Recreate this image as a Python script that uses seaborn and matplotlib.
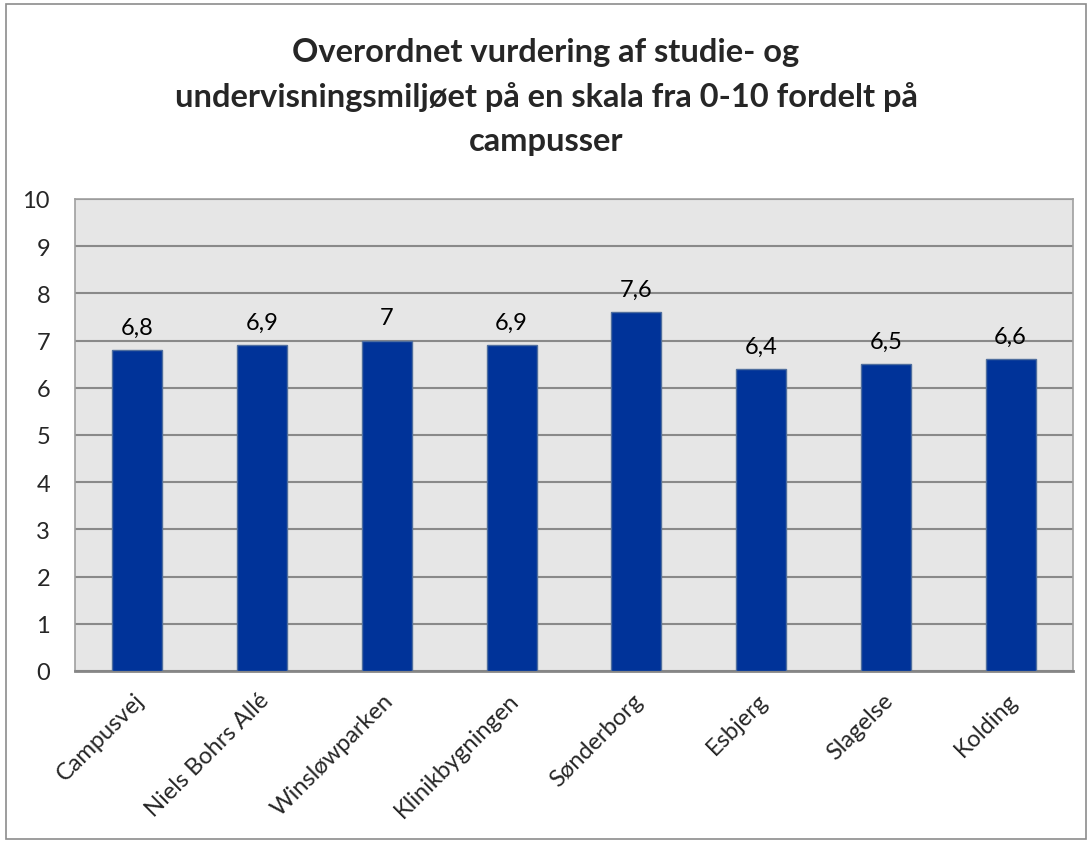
import matplotlib
matplotlib.use("Agg")
import matplotlib.pyplot as plt
import matplotlib.transforms as mtransforms
import seaborn as sns
import pandas as pd

categories = ["Campusvej", "Niels Bohrs Allé", "Winsløwparken", "Klinikbygningen",
              "Sønderborg", "Esbjerg", "Slagelse", "Kolding"]
values = [6.8, 6.9, 7.0, 6.9, 7.6, 6.4, 6.5, 6.6]
value_labels = ["6,8", "6,9", "7", "6,9", "7,6", "6,4", "6,5", "6,6"]
yticks = list(range(0, 11))
title = "Overordnet vurdering af studie- og\nundervisningsmiljøet på en skala fra 0-10 fordelt på\ncampusser"

sns.set_theme(style="white")
plt.rcParams['font.family'] = ['Lato', 'DejaVu Sans']

df = pd.DataFrame({"campus": categories, "score": values})

fig = plt.figure(figsize=(10.92, 8.45), dpi=100)
ax = fig.add_axes([75/1092, 1 - 672/845, (1073-75)/1092, (672-200)/845])
ax.set_facecolor("#E6E6E6")

sns.barplot(data=df, x="campus", y="score", ax=ax, color="#003399",
            width=0.4, edgecolor="#4F6E9E", linewidth=1.0, saturation=1, zorder=3)

ax.set_ylim(0, 10)
ax.set_yticks(yticks)
ax.set_yticklabels([str(t) for t in yticks], fontsize=17)
ax.set_xlim(-0.5, len(categories) - 0.5)
ax.yaxis.grid(True, color="#898989", linewidth=1.5, zorder=0)
ax.set_axisbelow(True)
ax.tick_params(axis="y", length=0, pad=18)
ax.tick_params(axis="x", length=0, pad=13)
ax.set_xticks(range(len(categories)))
ax.set_xticklabels(categories, rotation=45, ha="right", va="top",
                   rotation_mode="anchor", fontsize=17)
offset = mtransforms.ScaledTranslation(-4/100, 0, fig.dpi_scale_trans)
for lbl in ax.get_xticklabels():
    lbl.set_transform(lbl.get_transform() + offset)
ax.set_xlabel("")
ax.set_ylabel("")
for s in ["left", "right", "top"]:
    ax.spines[s].set_color("#A0A0A0")
    ax.spines[s].set_linewidth(1.2)
ax.spines["bottom"].set_color("#868686")
ax.spines["bottom"].set_linewidth(2)

for i, (v, lab) in enumerate(zip(values, value_labels)):
    ax.annotate(lab, (i, v), xytext=(0, 9), textcoords="offset points",
                ha="center", va="bottom", fontsize=17, color="black")

fig.text(0.5, 1 - 97/845, title, ha="center", va="center", fontsize=23.5,
         fontweight="bold", linespacing=1.6)

border = plt.Rectangle((6/1092, 5/845), 1 - 12/1092, 1 - 10/845, transform=fig.transFigure,
                       fill=False, edgecolor="#8C8C8C", linewidth=1.2)
fig.patches.append(border)

fig.savefig("out.png", dpi=100)
